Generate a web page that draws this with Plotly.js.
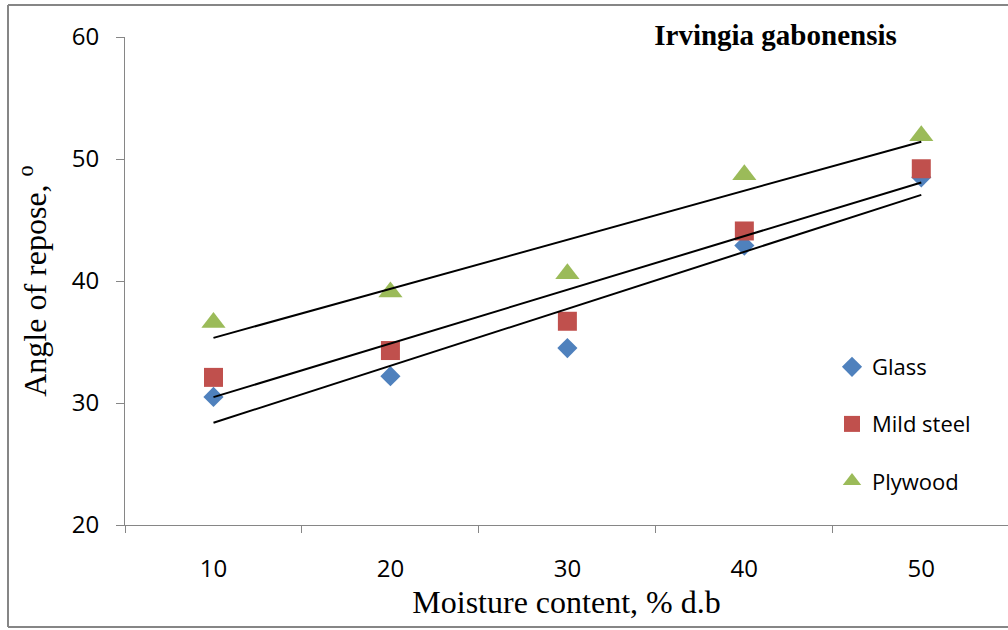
<!DOCTYPE html>
<html>
<head>
<meta charset="utf-8">
<script src="https://cdn.plot.ly/plotly-3.0.1.min.js"></script>
<style>html,body{margin:0;padding:0;background:#fff;}#chart{width:1008px;height:630px;}</style>
</head>
<body>
<div id="chart"></div>
<script>
const categories = ['10', '20', '30', '40', '50'];
const glass = [30.5, 32.2, 34.5, 42.9, 48.5];
const mildSteel = [32.1, 34.3, 36.7, 44.1, 49.2];
const plywood = [36.6, 39.1, 40.6, 48.7, 51.9];
const seriesNames = ['Glass', 'Mild steel', 'Plywood'];
const yTicks = [20, 30, 40, 50, 60];

function linFit(vals) {
  const n = vals.length;
  const xs = vals.map((_, i) => i + 1);
  const mx = xs.reduce((a, b) => a + b, 0) / n;
  const my = vals.reduce((a, b) => a + b, 0) / n;
  let sxy = 0, sxx = 0;
  for (let i = 0; i < n; i++) { sxy += (xs[i] - mx) * (vals[i] - my); sxx += (xs[i] - mx) ** 2; }
  const b = sxy / sxx, a = my - b * mx;
  return [a + b * xs[0], a + b * xs[n - 1]];
}

const tickFont = {family: 'Open Sans', size: 24, color: '#000'};
const serif = 'Liberation Serif';

const series = [
  {name: seriesNames[0], y: glass, color: '#4F81BD', symbol: 'diamond', size: 15.5},
  {name: seriesNames[1], y: mildSteel, color: '#C0504D', symbol: 'square', size: 19},
  {name: seriesNames[2], y: plywood, color: '#9BBB59', symbol: 'triangle-up', size: 21}
];

const traces = [];
series.forEach((s, i) => {
  traces.push({
    type: 'scatter', mode: 'markers', name: s.name, x: categories, y: s.y,
    legendgroup: 'g' + i,
    marker: {symbol: s.symbol, size: s.size, color: s.color, line: {width: 0}},
    hoverinfo: 'x+y+name'
  });
});
series.forEach((s, i) => {
  const f = linFit(s.y);
  traces.push({
    type: 'scatter', mode: 'lines', x: [categories[0], categories[categories.length - 1]], y: f,
    line: {color: '#000', width: 2}, showlegend: false, hoverinfo: 'skip'
  });
});

const layout = {
  width: 1008, height: 630,
  margin: {l: 125, r: 0, t: 37, b: 105},
  paper_bgcolor: '#fff', plot_bgcolor: 'rgba(0,0,0,0)',
  showlegend: true,
  title: {
    text: '<b>Irvingia gabonensis</b>',
    font: {family: serif, size: 29, color: '#000'},
    xref: 'container', yref: 'container', x: 775.5 / 1008, xanchor: 'center',
    y: 1 - 35 / 630, yanchor: 'middle'
  },
  xaxis: {
    type: 'category', categoryorder: 'array', categoryarray: categories,
    range: [-0.5, 4.49], tickson: 'boundaries', ticks: 'outside', ticklen: 7, tickwidth: 1,
    tickcolor: '#868686', showline: true, linecolor: '#868686', linewidth: 1,
    showgrid: false, zeroline: false, tickfont: tickFont, ticklabelstandoff: 22,
    title: {text: 'Moisture content, % d.b', font: {family: serif, size: 32, color: '#000'}, standoff: 6}
  },
  yaxis: {
    range: [20, 60], tickvals: yTicks, ticktext: yTicks.map(String),
    ticks: 'outside', ticklen: 8, tickwidth: 1, tickcolor: '#868686',
    showline: true, linecolor: '#868686', linewidth: 1, showgrid: false, zeroline: false,
    tickfont: tickFont, ticklabelstandoff: 12,
    title: {text: 'Angle of repose, <sup>o</sup>', font: {family: serif, size: 32, color: '#000'}, standoff: 15}
  },
  legend: {
    x: (832 - 125) / 883, xanchor: 'left', y: (525 - 424) / 488, yanchor: 'middle',
    font: {family: 'Open Sans', size: 22, color: '#000'},
    bgcolor: 'rgba(0,0,0,0)', tracegroupgap: 25.5, itemwidth: 30
  },
  shapes: [
    {type: 'line', xref: 'paper', yref: 'paper', x0: (8 - 125) / 883, x1: 1.01, y0: (525 - 5) / 488, y1: (525 - 5) / 488, line: {color: '#868686', width: 2}},
    {type: 'line', xref: 'paper', yref: 'paper', x0: (8 - 125) / 883, x1: 1.01, y0: (525 - 627) / 488, y1: (525 - 627) / 488, line: {color: '#868686', width: 2}},
    {type: 'line', xref: 'paper', yref: 'paper', x0: (8 - 125) / 883, x1: (8 - 125) / 883, y0: (525 - 5) / 488, y1: (525 - 627) / 488, line: {color: '#868686', width: 2}}
  ]
};

Plotly.newPlot('chart', traces, layout, {displayModeBar: false, staticPlot: true});
</script>
</body>
</html>
